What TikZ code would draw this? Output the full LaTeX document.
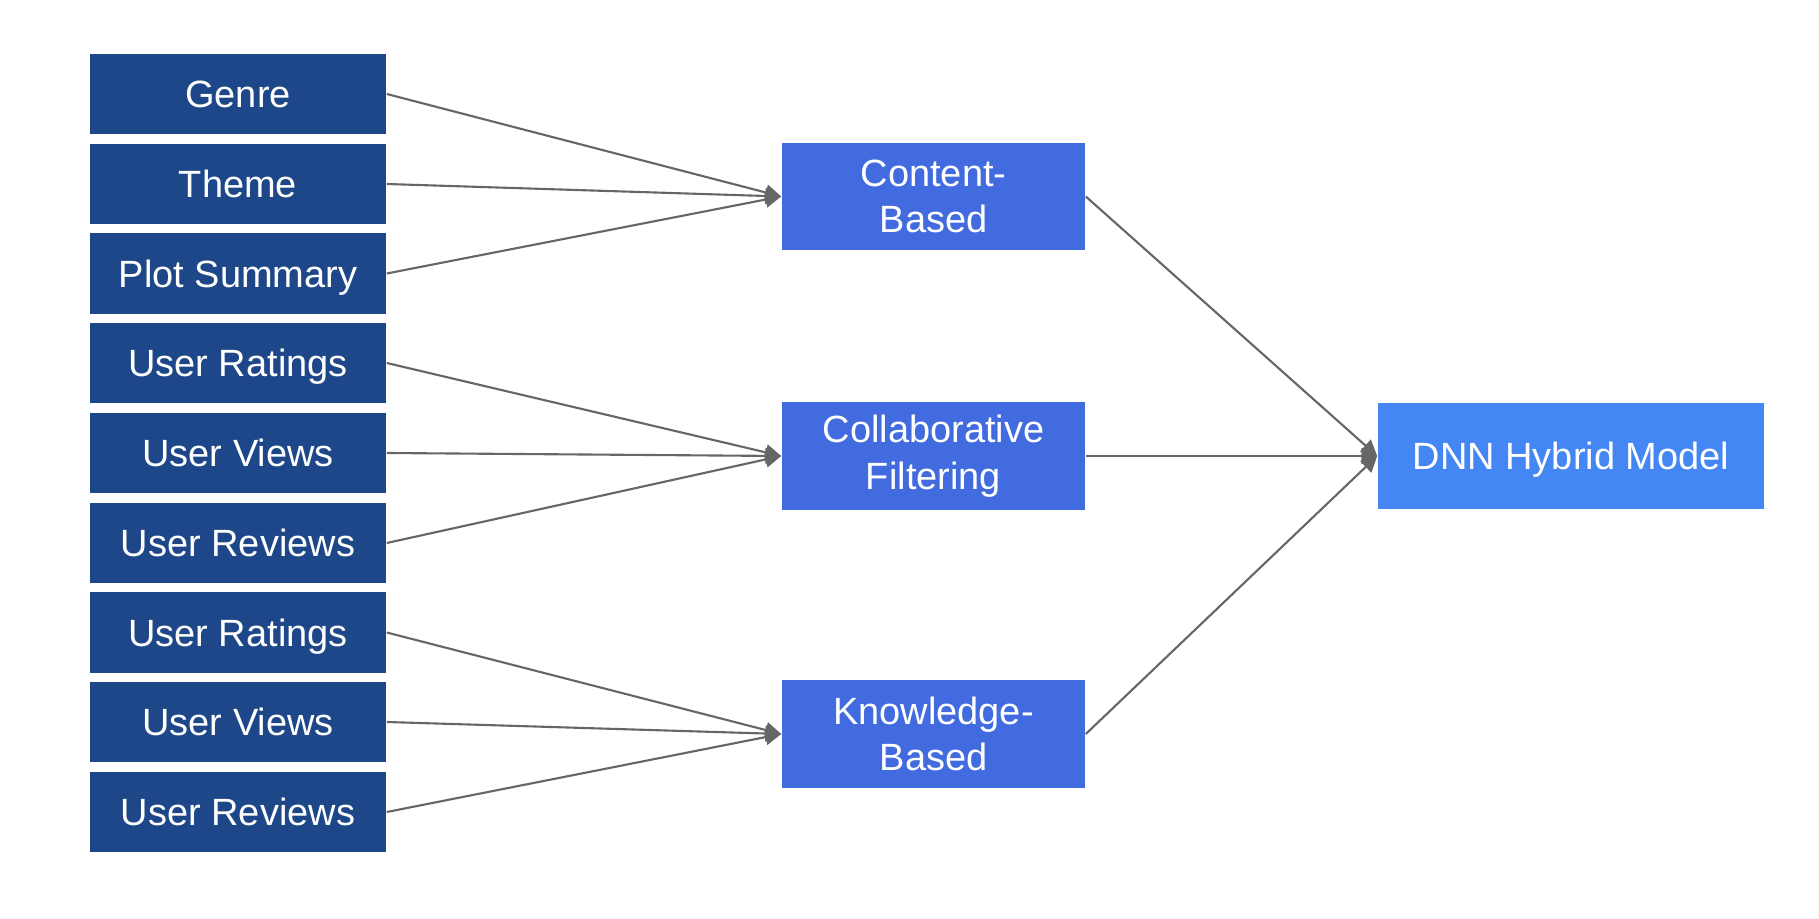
\documentclass[tikz,border=0pt]{standalone}
\usepackage{fontspec}
\setmainfont{Liberation Sans}
\usetikzlibrary{arrows.meta}
\definecolor{darkbox}{HTML}{1D4788}
\definecolor{midbox}{HTML}{416BDF}
\definecolor{dnnbox}{HTML}{4486F4}
\definecolor{linkgray}{HTML}{666666}

\begin{document}
\begin{tikzpicture}[
    x=0.01cm, y=-0.01cm,
    font=\fontsize{10.8}{13.2}\selectfont,
    feature/.style={fill=darkbox, text=white, rectangle, inner sep=0pt, text depth=0pt, minimum width=2.96cm, minimum height=0.8cm},
    method/.style={fill=midbox, text=white, rectangle, inner sep=0pt, align=center, minimum width=3.03cm, minimum height=1.07cm},
    hybrid/.style={fill=dnnbox, text=white, rectangle, inner sep=0pt, text depth=0pt, minimum width=3.86cm, minimum height=1.06cm},
    arrow/.style={-{Triangle[length=4.5pt, width=4.5pt]}, line width=0.6pt, color=linkgray}
]
    \useasboundingbox (0, 0) rectangle (1819, 919);

    % Content features
    \node (genre) at (238, 94) [feature] {Genre};
    \node (theme) at (238, 184) [feature] {Theme};
    \node (plot) at (238, 273.5) [feature] {Plot Summary};

    % Collaborative features
    \node (ratings1) at (238, 363) [feature] {User Ratings};
    \node (views1) at (238, 453) [feature] {User Views};
    \node (reviews1) at (238, 543) [feature] {User Reviews};

    % Knowledge features
    \node (ratings2) at (238, 632.5) [feature] {User Ratings};
    \node (views2) at (238, 722) [feature] {User Views};
    \node (reviews2) at (238, 812) [feature] {User Reviews};

    % Methods
    \node (content) at (933.5, 196.5) [method] {Content-\\Based};
    \node (collab) at (933.5, 456) [method] {Collaborative\\Filtering};
    \node (knowledge) at (933.5, 734) [method] {Knowledge-\\Based};

    % Hybrid model
    \node (dnn) at (1571, 456) [hybrid] {DNN Hybrid Model};

    % Arrows
    \draw[arrow] (genre.east) -- (content.west);
    \draw[arrow] (theme.east) -- (content.west);
    \draw[arrow] (plot.east) -- (content.west);
    \draw[arrow] (ratings1.east) -- (collab.west);
    \draw[arrow] (views1.east) -- (collab.west);
    \draw[arrow] (reviews1.east) -- (collab.west);
    \draw[arrow] (ratings2.east) -- (knowledge.west);
    \draw[arrow] (views2.east) -- (knowledge.west);
    \draw[arrow] (reviews2.east) -- (knowledge.west);
    \draw[arrow] (content.east) -- (dnn.west);
    \draw[arrow] (collab.east) -- (dnn.west);
    \draw[arrow] (knowledge.east) -- (dnn.west);
\end{tikzpicture}
\end{document}
